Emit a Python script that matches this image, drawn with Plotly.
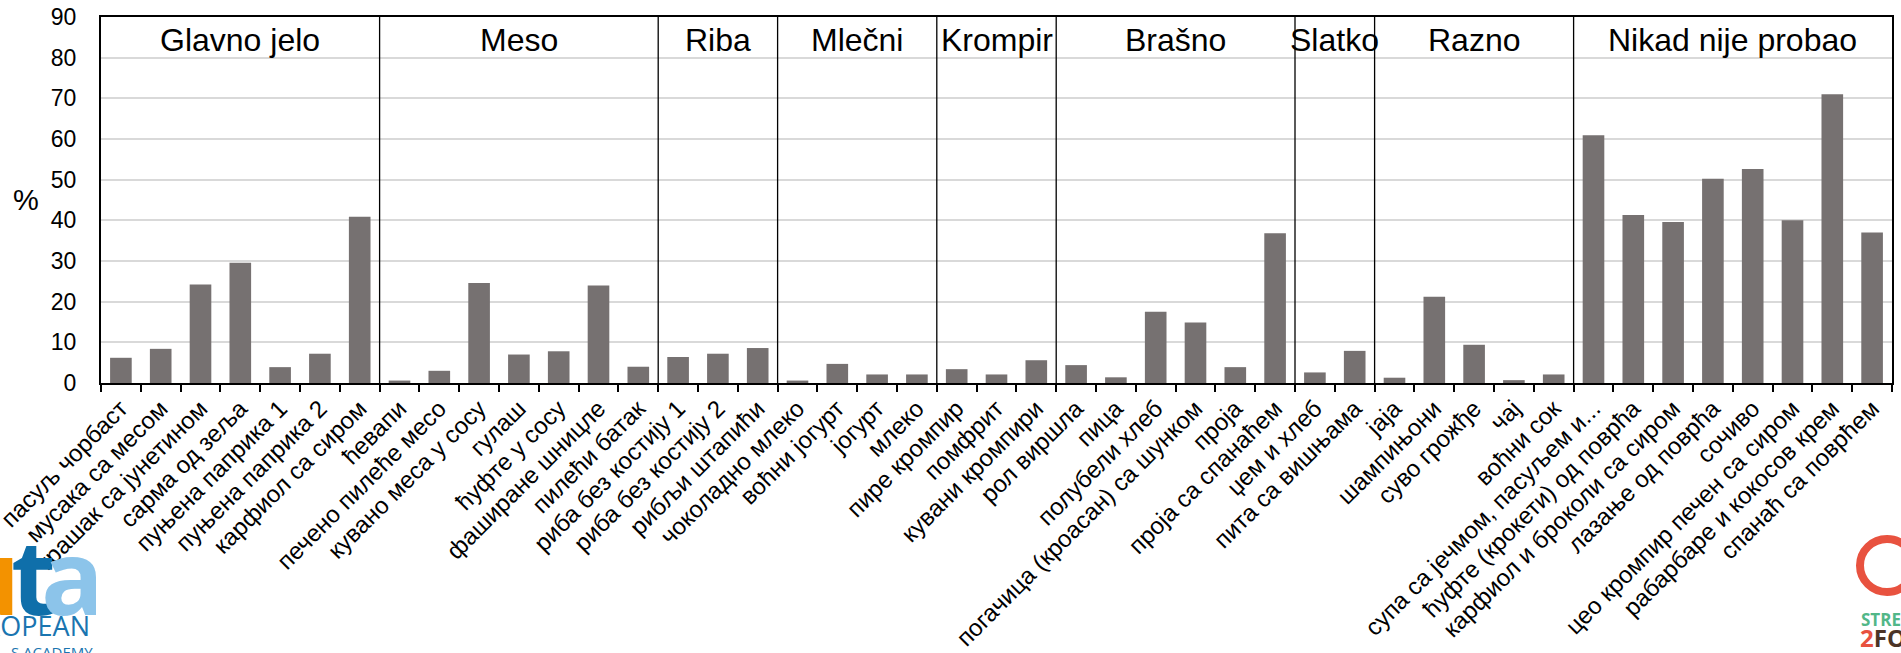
import plotly.graph_objects as go

# ---- data -------------------------------------------------------------
group_names = ["Glavno jelo", "Meso", "Riba", "Mlečni", "Krompir",
               "Brašno", "Slatko", "Razno", "Nikad nije probao"]

glavno_jelo = ["пасуљ чорбаст", "мусака са месом", "грашак са јунетином",
               "сарма од зеља", "пуњена паприка 1", "пуњена паприка 2",
               "карфиол са сиром"]
glavno_jelo_pct = [6.2, 8.4, 24.2, 29.6, 3.9, 7.2, 40.9]

meso = ["ћевапи", "печено пилеће месо", "кувано меса у сосу", "гулаш",
        "ћуфте у сосу", "фаширане шницле", "пилећи батак"]
meso_pct = [0.6, 3.0, 24.6, 7.0, 7.8, 24.0, 4.0]

riba = ["риба без костију 1", "риба без костију 2", "рибљи штапићи"]
riba_pct = [6.4, 7.2, 8.6]

mlecni = ["чоколадно млеко", "воћни јогурт", "јогурт", "млеко"]
mlecni_pct = [0.6, 4.7, 2.1, 2.1]

krompir = ["пире кромпир", "помфрит", "кувани кромпири"]
krompir_pct = [3.4, 2.1, 5.6]

brasno = ["рол виршла", "пица", "полубели хлеб",
          "погачица (кроасан) са шунком", "проја", "проја са спанаћем"]
brasno_pct = [4.4, 1.4, 17.5, 14.9, 3.9, 36.8]

slatko = ["џем и хлеб", "пита са вишњама"]
slatko_pct = [2.6, 7.9]

razno = ["јаја", "шампињони", "суво грожђе", "чај", "воћни сок"]
razno_pct = [1.3, 21.2, 9.4, 0.7, 2.1]

nikad = ["супа са јечмом, пасуљем и...", "ћуфте (крокети) од поврћа",
         "карфиол и броколи са сиром", "лазање од поврћа", "сочиво",
         "цео кромпир печен са сиром", "рабарбаре и кокосов крем",
         "спанаћ са поврћем"]
nikad_pct = [60.9, 41.3, 39.6, 50.2, 52.6, 40.0, 71.0, 37.0]

y_ticks = [0, 10, 20, 30, 40, 50, 60, 70, 80, 90]

groups = [glavno_jelo, meso, riba, mlecni, krompir, brasno, slatko, razno, nikad]
group_values = [glavno_jelo_pct, meso_pct, riba_pct, mlecni_pct, krompir_pct,
                brasno_pct, slatko_pct, razno_pct, nikad_pct]

foods = [f for g in groups for f in g]
values = [v for g in group_values for v in g]

# ---- page geometry ----------------------------------------------------
W, H = 1901, 653
ML, MR, MT, MB = 101, 9, 17, 270
PW, PH = W - ML - MR, H - MT - MB


def px(xp):
    return (xp - ML) / PW


def py(yp):
    return (H - MB - yp) / PH


FONT = "Arial, Liberation Sans, sans-serif"
BAR = "#767171"

fig = go.Figure(go.Bar(
    x=foods, y=values, marker=dict(color=BAR, line=dict(width=0)),
    hoverinfo="x+y",
))

shapes = []
annotations = []

# separators and headings for each food group
start = 0
for name, g in zip(group_names, groups):
    n = len(g)
    center = start + (n - 1) / 2
    annotations.append(dict(
        x=center, y=84.3, xref="x", yref="y", text=name, showarrow=False,
        font=dict(family=FONT, size=32, color="black"),
        xanchor="center", yanchor="middle",
    ))
    start += n
    if start < len(foods):
        shapes.append(dict(
            type="line", xref="x", yref="y", x0=start - 0.5, x1=start - 0.5,
            y0=0, y1=90, line=dict(color="black", width=1.3), layer="above",
        ))

# y-axis caption
annotations.append(dict(
    x=px(26), y=py(200), xref="paper", yref="paper", text="%",
    showarrow=False, font=dict(family=FONT, size=29, color="black"),
    xanchor="center", yanchor="middle",
))

# left-hand logo (partially off the page)
LOGO = "Open Sans, Arial, sans-serif"
for ch, col, cx in [("u", "#f39200", -14), ("t", "#0f6faa", 33), ("a", "#8cc4ea", 72)]:
    annotations.append(dict(
        x=px(cx), y=py(574), xref="paper", yref="paper", text="<b>" + ch + "</b>",
        showarrow=False, font=dict(family=LOGO, size=104, color=col),
        xanchor="center", yanchor="middle",
    ))
annotations.append(dict(
    x=px(92), y=py(625), xref="paper", yref="paper", text="EUROPEAN",
    showarrow=False, font=dict(family=LOGO, size=27, color="#1a75b0"),
    xanchor="right", yanchor="middle",
))
annotations.append(dict(
    x=px(95), y=py(652), xref="paper", yref="paper", text="S ACADEMY",
    showarrow=False, font=dict(family=LOGO, size=15, color="#1a75b0"),
    xanchor="right", yanchor="middle",
))

# right-hand logo (partially off the page)
shapes.append(dict(
    type="circle", xref="paper", yref="paper",
    x0=px(1860), x1=px(1914), y0=py(592), y1=py(539),
    line=dict(color="#e8523f", width=8), fillcolor="rgba(0,0,0,0)",
))
annotations.append(dict(
    x=px(1859), y=py(619), xref="paper", yref="paper", text="<b>STREET</b>",
    showarrow=False, font=dict(family=LOGO, size=17, color="#52b788"),
    xanchor="left", yanchor="middle",
))
annotations.append(dict(
    x=px(1858), y=py(637), xref="paper", yref="paper",
    text="<b><span style='color:#e8523f'>2</span>FOOD</b>",
    showarrow=False, font=dict(family=LOGO, size=24, color="#4b3427"),
    xanchor="left", yanchor="middle",
))

fig.update_layout(
    width=W, height=H,
    margin=dict(l=ML, r=MR, t=MT, b=MB, pad=0, autoexpand=False),
    paper_bgcolor="white", plot_bgcolor="white",
    showlegend=False,
    bargap=0.457,
    shapes=shapes,
    annotations=annotations,
    font=dict(family=FONT, color="black"),
)

fig.update_xaxes(
    type="category", categoryorder="array", categoryarray=foods,
    tickangle=-45, tickfont=dict(family=FONT, size=24, color="black"),
    ticks="outside", tickson="boundaries", ticklen=7, tickwidth=1.5,
    tickcolor="black", automargin=False,
    showline=True, linecolor="black", linewidth=2, mirror=True,
    showgrid=False, range=[-0.5, len(foods) - 0.5],
)

fig.update_yaxes(
    range=[0, 90], tickvals=y_ticks, ticks="", automargin=False,
    tickfont=dict(family=FONT, size=23, color="black"),
    ticklabelstandoff=18,
    showgrid=True, gridcolor="#d9d9d9", gridwidth=1.5,
    showline=True, linecolor="black", linewidth=2, mirror=True,
    zeroline=False,
)

fig.write_html("out.html")
